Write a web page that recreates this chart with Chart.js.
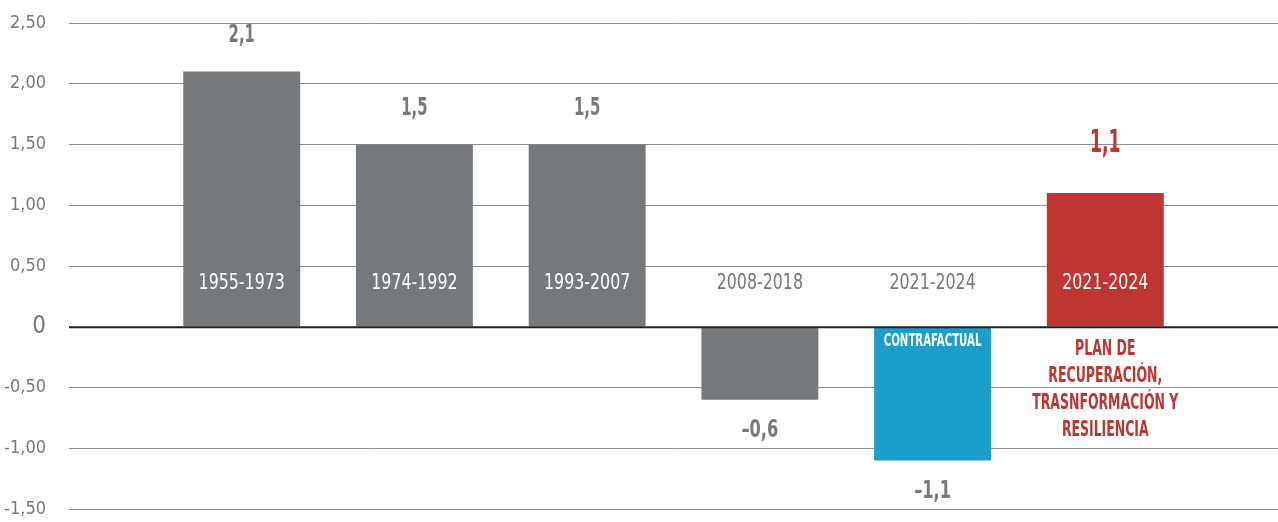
<!DOCTYPE html>
<html>
<head>
<meta charset="utf-8">
<script src="https://cdn.jsdelivr.net/npm/chart.js@4/dist/chart.umd.min.js"></script>
<style>
  html, body { margin: 0; padding: 0; background: #fff; }
  #wrap { width: 1278px; height: 522px; position: relative; }
</style>
</head>
<body>
<div id="wrap"><canvas id="chart"></canvas></div>
<script>
// Crecimiento medio anual por periodo
const periods = ['1955-1973', '1974-1992', '1993-2007', '2008-2018', '2021-2024', '2021-2024']
const growth = [2.1, 1.5, 1.5, -0.6, -1.1, 1.1]
const barColors = ['#76797c', '#76797c', '#76797c', '#76797c', '#1b9ec9', '#c03431']
const yMin = -1.5
const yMax = 2.5
const yStep = 0.5
const contraLabel = 'CONTRAFACTUAL'
const planLines = ['PLAN DE', 'RECUPERACIÓN,', 'TRASNFORMACIÓN Y', 'RESILIENCIA']

const FONT = '"DejaVu Sans Condensed", "DejaVu Sans", sans-serif'
const GREY = '#76797c'
const RED = '#c03431'

function fmtValue (v) {
  const s = Math.abs(v).toFixed(1).replace('.', ',')
  return v < 0 ? '–' + s : s
}

function fmtTick (v) {
  if (v === 0) return '0'
  return v.toFixed(2).replace('.', ',')
}

// texto estrechado en horizontal (fuente condensada)
function drawLabel (ctx, text, x, y, size, weight, color, sx) {
  ctx.save()
  ctx.translate(x, y)
  ctx.scale(sx, 1)
  ctx.font = weight + ' ' + size + 'px ' + FONT
  ctx.fillStyle = color
  ctx.textAlign = 'center'
  ctx.textBaseline = 'middle'
  ctx.fillText(text, 0, 0)
  ctx.restore()
}

const labelsPlugin = {
  id: 'barLabels',
  afterDatasetsDraw (chart) {
    const { ctx, chartArea, scales } = chart
    const y0 = scales.y.getPixelForValue(0)

    // línea del cero por encima de las barras
    ctx.save()
    ctx.strokeStyle = '#231f20'
    ctx.lineWidth = 2
    ctx.beginPath()
    ctx.moveTo(chartArea.left, y0 + 0.5)
    ctx.lineTo(chartArea.right, y0 + 0.5)
    ctx.stroke()
    ctx.restore()

    const meta = chart.getDatasetMeta(0)
    meta.data.forEach((bar, i) => {
      const v = chart.data.datasets[0].data[i]
      if (v === null) return
      const idx = i - 1
      const x = bar.x
      const isPlan = idx === periods.length - 1

      // valor
      if (isPlan) {
        drawLabel(ctx, fmtValue(v), x, bar.y - 49, 32, 'bold', RED, 0.6)
      } else if (v >= 0) {
        drawLabel(ctx, fmtValue(v), x, bar.y - 36, 25, 'bold', GREY, 0.66)
      } else {
        drawLabel(ctx, fmtValue(v), x, bar.y + 31, 25, 'bold', GREY, 0.72)
      }

      // periodo
      const inside = v > 0
      drawLabel(ctx, periods[idx], x, y0 - 43, 22, 'normal', inside ? '#ffffff' : GREY, 0.8)
    })

    const contra = meta.data[5]
    drawLabel(ctx, contraLabel, contra.x, y0 + 15, 18, 'bold', '#ffffff', 0.63)

    const plan = meta.data[6]
    planLines.forEach((line, k) => {
      drawLabel(ctx, line, plan.x, y0 + 23 + k * 26.8, 21, 'bold', RED, 0.66)
    })
  }
}

new Chart(document.getElementById('chart'), {
  type: 'bar',
  data: {
    labels: ['', ...periods, ''],
    datasets: [{
      data: [null, ...growth, null],
      backgroundColor: ['transparent', ...barColors, 'transparent'],
      borderWidth: 0,
      barPercentage: 0.677,
      categoryPercentage: 1
    }]
  },
  options: {
    responsive: true,
    maintainAspectRatio: false,
    animation: false,
    layout: { padding: { top: 23, bottom: 13, left: 0, right: 0 } },
    plugins: { legend: { display: false }, tooltip: { enabled: false } },
    scales: {
      x: { type: 'category', offset: false, display: false },
      y: {
        min: yMin,
        max: yMax,
        afterFit: s => {
          s.width = 69
          s.paddingTop = 0
          s.paddingBottom = 0
        },
        border: { display: false },
        grid: {
          drawTicks: false,
          color: c => c.tick && c.tick.value === 0 ? 'transparent' : '#8e8e8e',
          lineWidth: 1
        },
        ticks: {
          stepSize: yStep,
          padding: 23,
          color: GREY,
          font: c => ({ family: FONT, size: c.tick && c.tick.value === 0 ? 24 : 18 }),
          callback: v => fmtTick(v)
        }
      }
    }
  },
  plugins: [labelsPlugin]
})
</script>
</body>
</html>
